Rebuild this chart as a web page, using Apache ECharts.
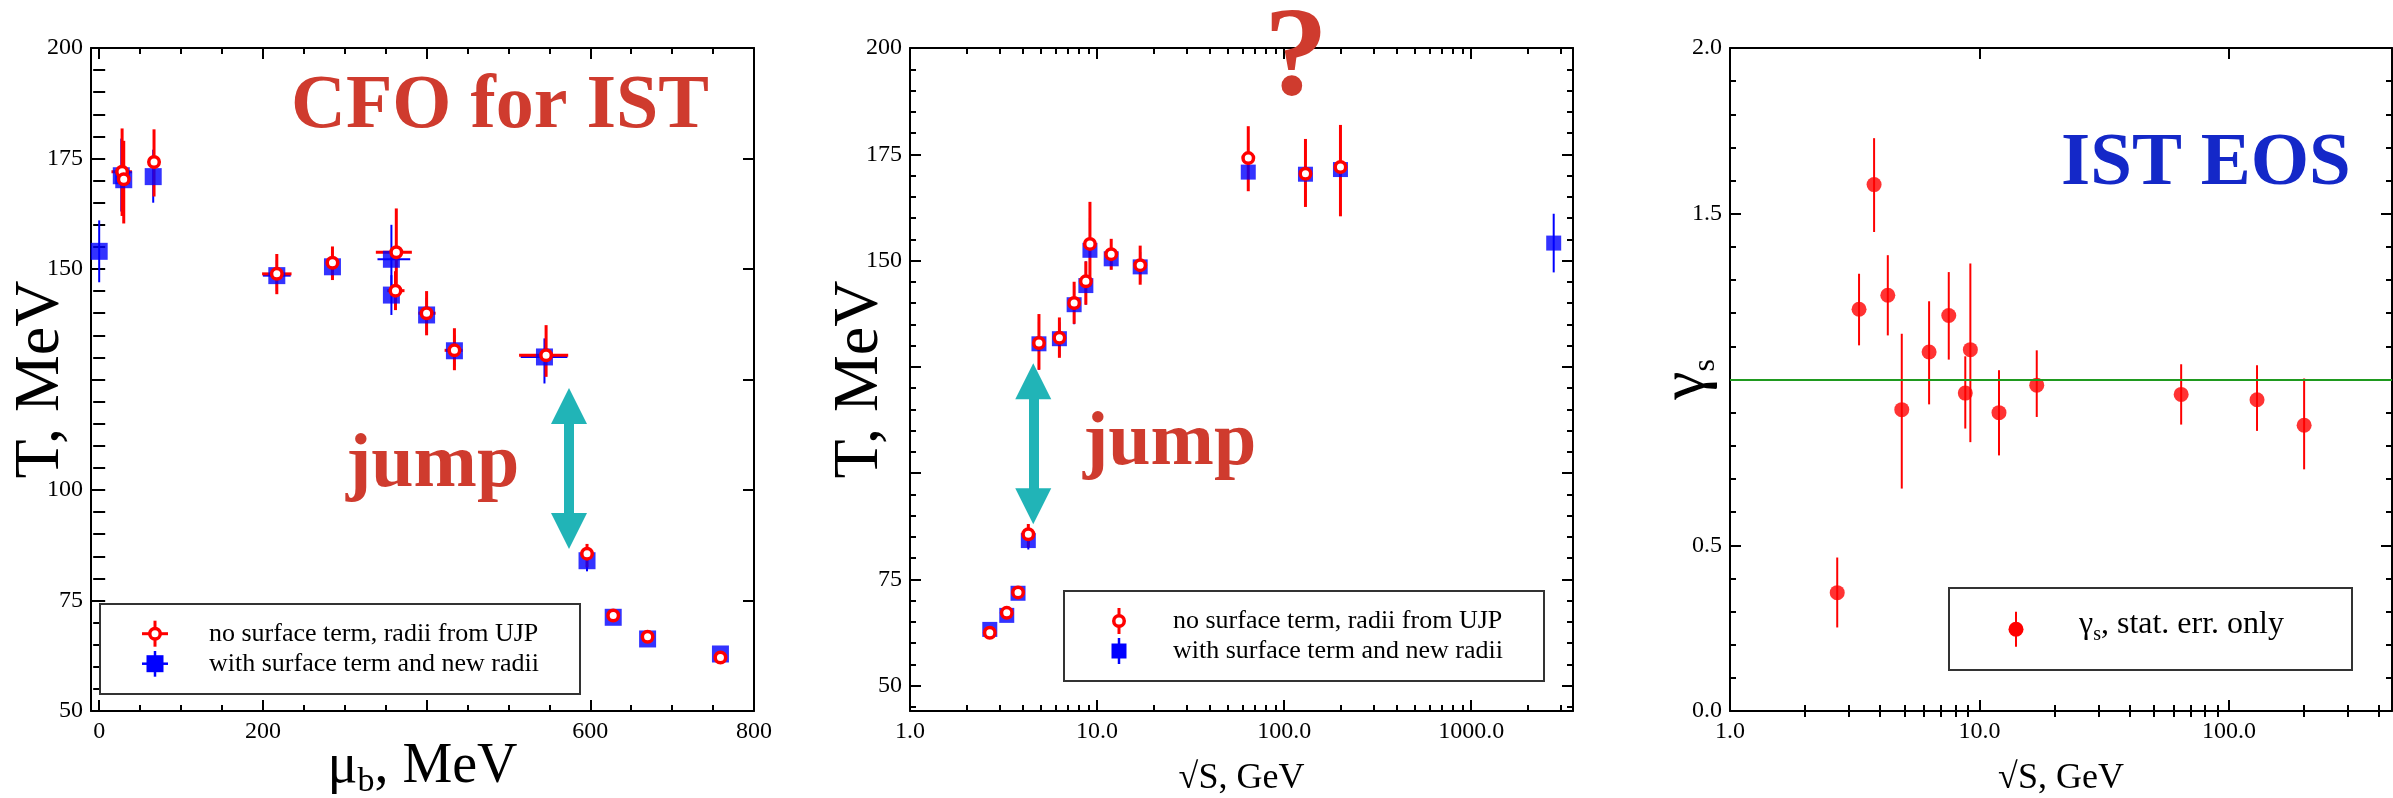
<!DOCTYPE html>
<html>
<head>
<meta charset="utf-8">
<script src="https://cdn.jsdelivr.net/npm/echarts@6/dist/echarts.min.js"></script>
<style>
html,body{margin:0;padding:0;background:#fff;}
#c{width:2393px;height:798px;}
</style>
</head>
<body>
<div id="c"></div>
<script>
// ---------------- DATA ----------------
// Panel 1: [muB (MeV), T (MeV), T low, T high, muB low, muB high]
const p1Blue = [
  [0, 154.0, 147.0, 161.0, null, null],
  [27, 171.1, 163.0, 179.5, null, null],
  [30, 170.2, 164.0, 178.0, null, null],
  [66, 170.9, 165.0, 177.0, null, null],
  [217, 148.5, 145.0, 152.0, 200, 234],
  [285, 150.5, 148.0, 153.0, null, null],
  [357, 152.2, 145.0, 160.0, 340, 380],
  [357, 144.1, 139.6, 148.6, null, null],
  [400, 139.6, 135.5, 143.5, null, null],
  [434, 131.5, 128.0, 135.0, null, null],
  [544, 130.1, 124.1, 134.3, 515, 572],
  [596, 84.0, 81.6, 86.5, null, null],
  [628, 71.2, null, null, null, null],
  [670, 66.3, null, null, null, null],
  [759, 62.9, null, null, null, null]
];
const p1Red = [
  [28, 172.0, 162.0, 181.8, 15, 40],
  [30, 170.3, 160.3, 179.0, null, null],
  [67, 174.2, 166.4, 181.6, null, null],
  [217, 148.9, 144.3, 153.4, 199, 235],
  [285, 151.4, 147.5, 155.1, null, null],
  [363, 153.8, 144.0, 163.7, 338, 382],
  [362, 145.1, 140.7, 149.5, 352, 373],
  [400, 140.0, 135.0, 145.0, 390, 411],
  [434, 131.6, 127.1, 136.6, 422, 444],
  [546, 130.5, 125.6, 137.3, 513, 573],
  [596, 85.6, 82.5, 87.8, null, null],
  [628, 71.6, null, null, null, null],
  [670, 66.8, null, null, null, null],
  [759, 62.1, null, null, null, null]
];
// Panel 2: [sqrt(s) (GeV), T (MeV), T low, T high]
const p2Blue = [
  [2.67, 63.2, null, null],
  [3.29, 66.5, null, null],
  [3.78, 71.7, null, null],
  [4.29, 84.1, 82.0, 86.0],
  [4.89, 130.4, 124.3, 135.5],
  [6.29, 131.6, 127.5, 135.5],
  [7.54, 139.6, 135.0, 144.0],
  [8.71, 144.1, 139.6, 149.8],
  [9.16, 152.4, 144.0, 160.0],
  [11.9, 150.4, 148.0, 153.0],
  [17.0, 148.5, 145.0, 152.0],
  [64.3, 170.8, null, null],
  [130, 170.3, null, null],
  [200, 171.4, null, null],
  [2760, 154.1, 147.2, 161.0]
];
const p2Red = [
  [2.67, 62.4, null, null],
  [3.29, 67.1, null, null],
  [3.78, 71.9, null, null],
  [4.29, 85.6, 82.5, 88.0],
  [4.89, 130.6, 124.3, 137.4],
  [6.29, 131.8, 127.1, 136.6],
  [7.54, 140.0, 135.1, 145.0],
  [8.71, 145.1, 139.6, 149.8],
  [9.16, 153.9, 143.9, 163.8],
  [11.9, 151.5, 147.8, 155.1],
  [17.0, 148.9, 144.3, 153.5],
  [64.3, 174.1, 166.3, 181.6],
  [130, 170.4, 162.6, 178.6],
  [200, 172.0, 160.4, 181.9]
];
// Panel 3: [sqrt(s) (GeV), gamma_s, low, high]
const p3Gamma = [
  [2.69, 0.357, 0.252, 0.463],
  [3.29, 1.212, 1.103, 1.319],
  [3.78, 1.588, 1.445, 1.728],
  [4.29, 1.254, 1.133, 1.375],
  [4.88, 0.909, 0.671, 1.138],
  [6.28, 1.083, 0.925, 1.236],
  [7.53, 1.193, 1.060, 1.324],
  [8.77, 0.959, 0.852, 1.070],
  [9.19, 1.090, 0.811, 1.350],
  [11.97, 0.900, 0.771, 1.028],
  [16.96, 0.983, 0.887, 1.088],
  [64.3, 0.955, 0.864, 1.046],
  [129.5, 0.939, 0.845, 1.043],
  [200, 0.862, 0.729, 1.003]
];
const gammaRef = 1.0;
// arrows "jump": [x, arrow head centre top, arrow head centre bottom]
const p1Arrow = [574, 119.0, 90.7];
const p2Arrow = [4.56, 121.6, 92.2];

// ticks
const p1XMajor = [0, 200, 400, 600, 800];
const p1XLabels = [0, 200, 600, 800];
const p1XMinor = [0, 50, 100, 150, 200, 250, 300, 350, 400, 450, 500, 550, 600, 650, 700, 750, 800];
const p1YMajor = [50, 75, 100, 125, 150, 175, 200];
const p1YLabels = [50, 75, 100, 150, 175, 200];
const p2YMajor = [50, 75, 100, 125, 150, 175, 200];
const p2YLabels = [50, 75, 150, 175, 200];
const p2XMajor = [1, 10, 100, 1000];
const p2XMinor = [2,3,4,5,6,7,8,9,20,30,40,50,60,70,80,90,200,300,400,500,600,700,800,900,2000,3000];
const p3XMajor = [1, 10, 100];
const p3XMinor = [2,3,4,5,6,7,8,9,20,30,40,50,60,70,80,90,200,300,400];
const p3YMajor = [0, 0.5, 1.0, 1.5, 2.0];
const p3YLabels = [0, 0.5, 1.5, 2.0];

function steps(a, b, s) { const r = []; for (let i = 0; ; i++) { const v = +(a + i * s).toFixed(6); if (v > b + 1e-9) break; r.push(v); } return r; }

// ---------------- STYLE ----------------
const FONT = "'Liberation Serif','Times New Roman',Times,serif";
const RED = '#ff0000', BLUE = '#0000ff', TEAL = '#21b4b7', ANN = '#cf3b2e', EOS = '#1428c8', GREEN = '#1f9a1f';

function makeAxes(dim, grid, cfg) {
  const isX = dim === 'x';
  const posMain = isX ? 'bottom' : 'left', posMir = isX ? 'top' : 'right';
  const base = { gridIndex: grid, type: cfg.type, min: cfg.min, max: cfg.max, splitLine: { show: false },
    minorTick: { show: false }, minorSplitLine: { show: false }, silent: true, axisPointer: { show: false } };
  if (cfg.type === 'log') base.logBase = 10;
  const line = { show: true, onZero: false, lineStyle: { color: '#000', width: 2 } };
  const major = { show: true, inside: true, length: 11, lineStyle: { color: '#000', width: 2 }, customValues: cfg.major };
  const minor = { show: true, inside: true, length: 6, lineStyle: { color: '#000', width: 2 }, customValues: cfg.minor };
  return [
    Object.assign({}, base, { position: posMain, axisLine: line, axisTick: major,
      axisLabel: { show: true, customValues: cfg.labels, formatter: cfg.fmt, fontFamily: FONT, fontSize: 24, color: '#000', margin: cfg.margin },
      name: cfg.name, nameLocation: 'middle', nameGap: cfg.nameGap, nameMoveOverlap: false, nameTextStyle: cfg.nameStyle }),
    Object.assign({}, base, { position: posMain, axisLine: { show: false }, axisTick: minor, axisLabel: { show: false } }),
    Object.assign({}, base, { position: posMir, axisLine: line, axisTick: major, axisLabel: { show: false } }),
    Object.assign({}, base, { position: posMir, axisLine: { show: false }, axisTick: minor, axisLabel: { show: false } })
  ];
}

const yName = { fontFamily: FONT, fontSize: 64, color: '#000' };
const xAxes = [].concat(
  makeAxes('x', 0, { type: 'value', min: -10, max: 800, major: p1XMajor, minor: p1XMinor, labels: p1XLabels,
    fmt: v => String(Math.round(v)), margin: 9, name: '{m|μ}{s|b}{m|, MeV}', nameGap: 28,
    nameStyle: { fontFamily: FONT, color: '#000', rich: {
      m: { fontFamily: FONT, fontSize: 56, color: '#000', verticalAlign: 'top' },
      s: { fontFamily: FONT, fontSize: 34, color: '#000', verticalAlign: 'top', padding: [26, 0, 0, 0] } } } }),
  makeAxes('x', 1, { type: 'log', min: 1, max: 3500, major: p2XMajor, minor: p2XMinor, labels: p2XMajor,
    fmt: v => Number(v).toFixed(1), margin: 9, name: '√S, GeV', nameGap: 50,
    nameStyle: { fontFamily: FONT, fontSize: 36, color: '#000' } }),
  makeAxes('x', 2, { type: 'log', min: 1, max: 450, major: p3XMajor, minor: p3XMinor, labels: p3XMajor,
    fmt: v => Number(v).toFixed(1), margin: 9, name: '√S, GeV', nameGap: 50,
    nameStyle: { fontFamily: FONT, fontSize: 36, color: '#000' } })
);
const yAxes = [].concat(
  makeAxes('y', 0, { type: 'value', min: 50, max: 200, major: p1YMajor, minor: steps(50, 200, 5), labels: p1YLabels,
    fmt: v => String(Math.round(v)), margin: 8, name: 'T, MeV', nameGap: 18, nameStyle: yName }),
  makeAxes('y', 1, { type: 'value', min: 44, max: 200, major: p2YMajor, minor: steps(45, 200, 5), labels: p2YLabels,
    fmt: v => String(Math.round(v)), margin: 8, name: 'T, MeV', nameGap: 18, nameStyle: yName }),
  makeAxes('y', 2, { type: 'value', min: 0, max: 2, major: p3YMajor, minor: steps(0, 2, 0.1), labels: p3YLabels,
    fmt: v => Number(v).toFixed(1), margin: 8, name: '{g|γ}{s|s}', nameGap: 8,
    nameStyle: { fontFamily: FONT, color: '#000', rich: {
      g: { fontFamily: FONT, fontSize: 64, color: '#000', verticalAlign: 'top' },
      s: { fontFamily: FONT, fontSize: 32, color: '#000', verticalAlign: 'top', padding: [36, 0, 0, 0] } } } })
);

function errRender(color, width) {
  return function (params, api) {
    const x = api.value(0), y = api.value(1);
    const ylo = api.value(2), yhi = api.value(3), xlo = api.value(4), xhi = api.value(5);
    const ch = [];
    if (isFinite(ylo) && isFinite(yhi) && ylo !== yhi) {
      const a = api.coord([x, ylo]), b = api.coord([x, yhi]);
      ch.push({ type: 'line', shape: { x1: a[0], y1: a[1], x2: b[0], y2: b[1] }, style: { stroke: color, lineWidth: width } });
    }
    if (isFinite(xlo) && isFinite(xhi) && xlo !== xhi) {
      const a = api.coord([xlo, y]), b = api.coord([xhi, y]);
      ch.push({ type: 'line', shape: { x1: a[0], y1: a[1], x2: b[0], y2: b[1] }, style: { stroke: color, lineWidth: width } });
    }
    return { type: 'group', children: ch };
  };
}
function errSeries(data, g, color, width, extra) {
  return Object.assign({ type: 'custom', xAxisIndex: 4 * g, yAxisIndex: 4 * g, silent: true,
    dimensions: ['x', 'y', 'ylo', 'yhi', 'xlo', 'xhi'].slice(0, data[0].length),
    encode: { x: 0, y: 1 }, renderItem: errRender(color, width), data: data }, extra || {});
}
function ptSeries(data, g, style, extra) {
  return Object.assign({ type: 'scatter', xAxisIndex: 4 * g, yAxisIndex: 4 * g, silent: true,
    data: data.map(r => [r[0], r[1]]) }, style, extra || {});
}
function arrowLine(a) {
  return { silent: true, animation: false, symbol: ['triangle', 'triangle'], symbolSize: 36,
    label: { show: false }, emphasis: { disabled: true },
    lineStyle: { color: TEAL, width: 10, type: 'solid', opacity: 1 }, itemStyle: { color: TEAL },
    data: [[{ coord: [a[0], a[1]] }, { coord: [a[0], a[2]] }]] };
}
const redRing = { symbol: 'circle', symbolSize: 10.5, itemStyle: { color: '#fff', borderColor: RED, borderWidth: 3.5, opacity: 1 } };

const series = [
  errSeries(p1Blue, 0, BLUE, 2),
  ptSeries(p1Blue, 0, { symbol: 'rect', symbolSize: [17, 17], itemStyle: { color: BLUE } }),
  errSeries(p1Red, 0, RED, 3),
  ptSeries(p1Red, 0, redRing, { markLine: arrowLine(p1Arrow) }),
  errSeries(p2Blue, 1, BLUE, 2),
  ptSeries(p2Blue, 1, { symbol: 'rect', symbolSize: [15, 15], itemStyle: { color: BLUE } }),
  errSeries(p2Red, 1, RED, 3),
  ptSeries(p2Red, 1, redRing, { markLine: arrowLine(p2Arrow) }),
  errSeries(p3Gamma, 2, RED, 2, { markLine: { silent: true, animation: false, symbol: 'none', label: { show: false },
    lineStyle: { color: GREEN, width: 2, type: 'solid' }, data: [{ yAxis: gammaRef }] } }),
  ptSeries(p3Gamma, 2, { symbol: 'circle', symbolSize: 15, itemStyle: { color: RED } })
];

// ---------------- GRAPHICS (legends, annotations) ----------------
function txt(x, y, text, size, color, weight, rich) {
  const st = { text: text, fontSize: size, fontFamily: FONT, fontWeight: weight || 'normal', fill: color,
    align: 'left', verticalAlign: 'middle', textAlign: 'left', textVerticalAlign: 'middle' };
  if (rich) st.rich = rich;
  return { type: 'text', x: x, y: y, z: 100, silent: true, style: st };
}
function box(x1, y1, x2, y2) {
  return { type: 'rect', z: 50, silent: true, shape: { x: x1, y: y1, width: x2 - x1, height: y2 - y1 },
    style: { fill: '#fff', stroke: '#333', lineWidth: 2 } };
}
function ln(x1, y1, x2, y2, c, w) {
  return { type: 'line', z: 60, silent: true, shape: { x1, y1, x2, y2 }, style: { stroke: c, lineWidth: w } };
}
function ring(cx, cy) {
  return { type: 'circle', z: 61, silent: true, shape: { cx, cy, r: 5.25 }, style: { fill: '#fff', stroke: RED, lineWidth: 3.5 } };
}
function sq(cx, cy, s) {
  return { type: 'rect', z: 61, silent: true, shape: { x: cx - s / 2, y: cy - s / 2, width: s, height: s }, style: { fill: BLUE } };
}
const graphics = [
  // panel 1 legend
  box(100, 604, 580, 694),
  ln(142, 633.7, 168, 633.7, RED, 3), ln(155, 620.7, 155, 646.7, RED, 3), ring(155, 633.7),
  ln(142, 663.7, 168, 663.7, BLUE, 2.5), ln(155, 651, 155, 676.7, BLUE, 2.5), sq(155, 663.7, 17),
  txt(209, 634.5, 'no surface term, radii from UJP', 26, '#000'),
  txt(209, 664.5, 'with surface term and new radii', 26, '#000'),
  // panel 2 legend
  box(1064, 591, 1544, 681),
  ln(1119, 608, 1119, 634, RED, 3), ring(1119, 621),
  ln(1119, 638, 1119, 664, BLUE, 2.5), sq(1119, 651, 15),
  txt(1173, 621.2, 'no surface term, radii from UJP', 26, '#000'),
  txt(1173, 651.2, 'with surface term and new radii', 26, '#000'),
  // panel 3 legend
  box(1949, 588, 2352, 670),
  ln(2016, 611.7, 2016, 646.7, RED, 2),
  { type: 'circle', z: 61, silent: true, shape: { cx: 2016, cy: 629.3, r: 7.5 }, style: { fill: RED } },
  txt(2079, 627, '{g|γ}{s|s}{g|, stat. err. only}', 32, '#000', 'normal', {
    g: { fontFamily: FONT, fontSize: 32, fill: '#000', verticalAlign: 'top' },
    s: { fontFamily: FONT, fontSize: 20, fill: '#000', verticalAlign: 'top', padding: [16, 0, 0, 0] } }),
  // annotations
  txt(291, 107, 'CFO for IST', 76, ANN, 'bold'),
  txt(346, 466, 'jump', 76, ANN, 'bold'),
  txt(1083, 444.4, 'jump', 76, ANN, 'bold'),
  txt(1264, 61, '?', 128, ANN, 'bold'),
  txt(2061, 165, 'IST EOS', 75, EOS, 'bold')
];

const chart = echarts.init(document.getElementById('c'), null, { renderer: 'canvas', width: 2393, height: 798 });
chart.setOption({
  animation: false,
  backgroundColor: '#fff',
  grid: [
    { left: 91, top: 48, width: 663, height: 663, containLabel: false, outerBoundsMode: 'none' },
    { left: 910, top: 48, width: 663, height: 663, containLabel: false, outerBoundsMode: 'none' },
    { left: 1730, top: 48, width: 662, height: 663, containLabel: false, outerBoundsMode: 'none' }
  ],
  xAxis: xAxes,
  yAxis: yAxes,
  series: series,
  graphic: graphics
});
</script>
</body>
</html>
